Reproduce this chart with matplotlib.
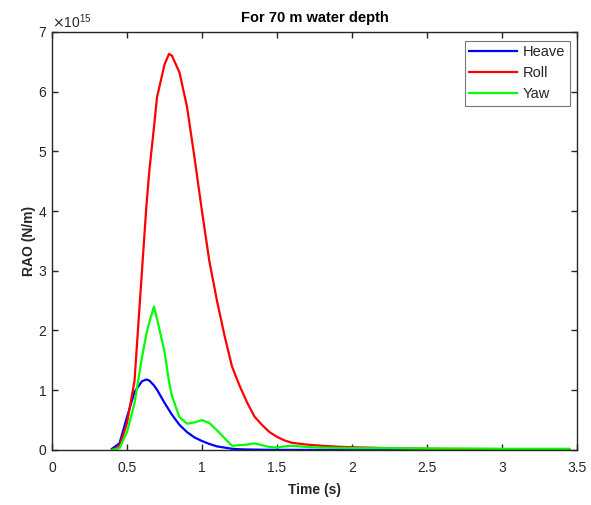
import matplotlib
matplotlib.use("Agg")
import matplotlib.pyplot as plt
from matplotlib.ticker import ScalarFormatter

plt.rcParams['font.family'] = ['Liberation Sans', 'DejaVu Sans']

# Wave period (s)
time = [0.40, 0.45, 0.50, 0.55, 0.60, 0.63, 0.65, 0.68, 0.70, 0.75, 0.78,
        0.80, 0.85, 0.90, 0.95, 1.00, 1.05, 1.10, 1.15, 1.20, 1.25, 1.30,
        1.35, 1.40, 1.45, 1.50, 1.55, 1.60, 1.70, 1.80, 1.90, 2.00, 2.25,
        2.50, 2.75, 3.00, 3.25, 3.45]

# RAO values, in units of 1e15 N/m
heave = [0.02, 0.11, 0.55, 0.97, 1.15, 1.18, 1.16, 1.08, 1.01, 0.79, 0.67,
         0.59, 0.42, 0.30, 0.21, 0.15, 0.10, 0.06, 0.04, 0.02, 0.012, 0.008,
         0.006, 0.004, 0.003, 0.002, 0.002, 0.001, 0.001, 0.001, 0.0, 0.0,
         0.0, 0.0, 0.0, 0.0, 0.0, 0.0]
roll = [0.0, 0.06, 0.45, 1.15, 3.00, 4.10, 4.70, 5.40, 5.90, 6.45, 6.63,
        6.60, 6.32, 5.75, 4.90, 4.00, 3.15, 2.50, 1.92, 1.40, 1.08, 0.80,
        0.56, 0.42, 0.30, 0.22, 0.16, 0.12, 0.09, 0.07, 0.055, 0.045, 0.03,
        0.02, 0.012, 0.008, 0.005, 0.003]
yaw = [0.0, 0.03, 0.30, 0.78, 1.55, 1.95, 2.15, 2.40, 2.20, 1.65, 1.15,
       0.90, 0.55, 0.44, 0.46, 0.50, 0.45, 0.33, 0.20, 0.07, 0.08, 0.09,
       0.11, 0.08, 0.05, 0.04, 0.06, 0.07, 0.05, 0.04, 0.035, 0.03, 0.03,
       0.025, 0.025, 0.02, 0.02, 0.02]

scale = 1e15
text_color = '#262626'

fig = plt.figure(figsize=(5.91, 5.05), dpi=100)
ax = fig.add_axes([0.088, 0.109, 0.888, 0.828])

ax.plot(time, [v * scale for v in heave], color='#0000ff', lw=1.6, label='Heave')
ax.plot(time, [v * scale for v in roll], color='#ff0000', lw=1.6, label='Roll')
ax.plot(time, [v * scale for v in yaw], color='#00ff00', lw=1.6, label='Yaw')

ax.set_xlim(0, 3.5)
ax.set_ylim(0, 7 * scale)
ax.set_xticks([0, 0.5, 1, 1.5, 2, 2.5, 3, 3.5])
ax.set_xticklabels(['0', '0.5', '1', '1.5', '2', '2.5', '3', '3.5'])
ax.set_yticks([i * scale for i in range(8)])

fmt = ScalarFormatter(useMathText=True)
fmt.set_scientific(True)
fmt.set_powerlimits((0, 0))
ax.yaxis.set_major_formatter(fmt)
ax.yaxis.get_offset_text().set_fontsize(10)
ax.yaxis.get_offset_text().set_color(text_color)

ax.tick_params(direction='in', top=True, right=True, labelsize=10,
               colors=text_color, length=4, width=1)
ax.tick_params(axis='x', pad=8)
for s in ax.spines.values():
    s.set_color(text_color)
    s.set_linewidth(1)

ax.set_xlabel('Time (s)', fontsize=10, fontweight='bold', color=text_color,
              labelpad=6)
ax.set_ylabel('RAO (N/m)', fontsize=10, fontweight='bold', color=text_color,
              labelpad=1)
ax.set_title('For 70 m water depth', fontsize=10.5, fontweight='bold', pad=7)

leg = ax.legend(loc='upper right', fontsize=10.5, handlelength=3.3,
                frameon=True, fancybox=False, borderpad=0.3,
                labelspacing=0.48, handletextpad=0.4, borderaxespad=0,
                bbox_to_anchor=(0.9865, 0.978))
leg.get_frame().set_edgecolor('#555555')
leg.get_frame().set_linewidth(0.8)
for t in leg.get_texts():
    t.set_color(text_color)

fig.savefig('out.png', dpi=100)
